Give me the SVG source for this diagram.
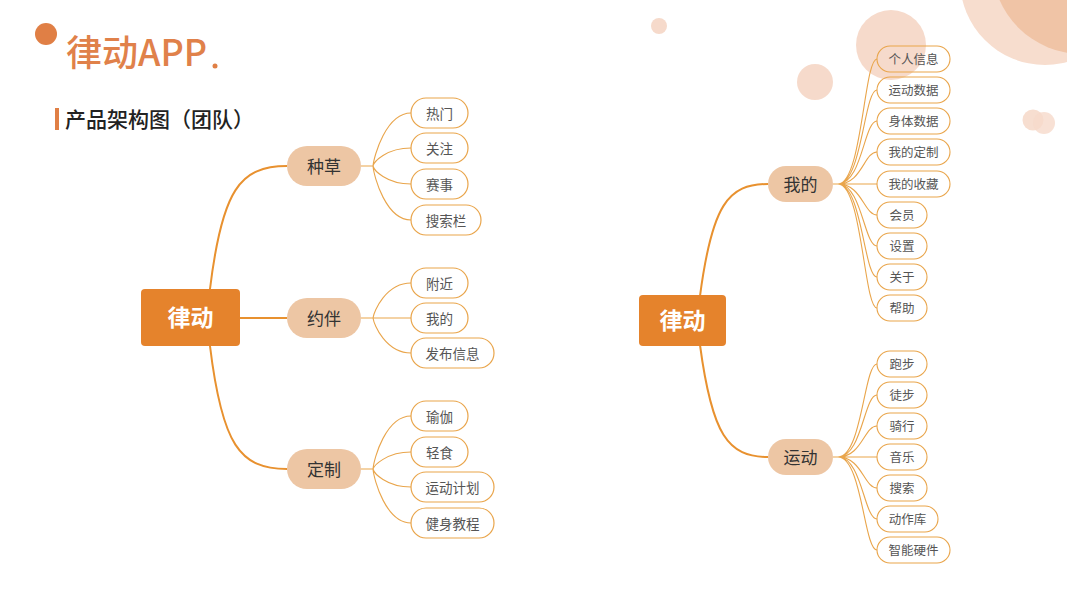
<svg xmlns="http://www.w3.org/2000/svg" width="1067" height="600" viewBox="0 0 1067 600">
<style>
text{font-family:"Noto Sans CJK SC","Noto Sans",sans-serif;}
.root rect{fill:#E5832C;}
.root text{fill:#fff;font-size:23px;font-weight:bold;text-anchor:middle;dominant-baseline:central;}
.pill rect{fill:#EDC6A4;}
.pill text{fill:#333;font-size:17px;text-anchor:middle;dominant-baseline:central;}
.leaf rect{fill:none;stroke:#E9A54B;stroke-width:1.2;}
.leaf text{fill:#555;font-size:13.5px;text-anchor:middle;dominant-baseline:central;}
.leafs text{fill:#555;font-size:12.5px;text-anchor:middle;dominant-baseline:central;}
.leafs rect{fill:none;stroke:#E9A54B;stroke-width:1.1;}
.main{fill:none;stroke:#E8912F;stroke-width:2;}
.sub{fill:none;stroke:#E9A54B;stroke-width:1.1;}
</style>
<rect width="1067" height="600" fill="#fff"/>
<g id="decor">
<circle cx="1045" cy="-20" r="85" fill="#F7DDCE"/>
<circle cx="1082" cy="-36" r="90" fill="#F0C4A6"/>
<circle cx="891" cy="45" r="35" fill="#F6DACB"/>
<circle cx="815" cy="82" r="18" fill="#F6DACB"/>
<circle cx="659" cy="26" r="8" fill="#F6DACB"/>
<circle cx="1033" cy="120" r="10.5" fill="#F6DACB" opacity="0.9"/>
<circle cx="1044" cy="123" r="11" fill="#F6DACB" opacity="0.8"/>
<circle cx="46" cy="34" r="11" fill="#E07F45"/>
<circle cx="215" cy="66" r="2.5" fill="#E07F45"/>
<rect x="55" y="108" width="4" height="22" fill="#E07F45"/>
</g>
<g id="title">
<text x="66" y="66" font-size="36" font-weight="500" fill="#E0814A">律动APP</text>
<text x="65" y="127" font-size="21" font-weight="500" fill="#222">产品架构图（团队）</text>
</g>
<g id="connectors">
<path class="main" d="M210,289 C222,190 240,166 287,166"/>
<path class="main" d="M240,318 L287,318"/>
<path class="main" d="M210,346 C222,445 240,469 287,469"/>
<path class="main" d="M700,296 C712,205 728,184 768,184"/>
<path class="main" d="M700,345 C712,435 728,457 768,457"/>
<path class="sub" d="M361,166 L373,166 M373,166 C374,156 386,113 411,113 M373,166 C374,162 386,148 411,148 M373,166 C374,170 386,184 411,184 M373,166 C374,177 386,220 411,220"/>
<path class="sub" d="M361,318 L411,318 M373,318 C374,311 386,283 411,283 M373,318 C374,325 386,353 411,353"/>
<path class="sub" d="M361,469 L373,469 M373,469 C374,458 386,416 411,416 M373,469 C374,466 386,452 411,452 M373,469 C374,473 386,487 411,487 M373,469 C374,480 386,523 411,523"/>
<path class="sub" d="M833,184 L838,184 M838,184 C862,184 864,59 877,59 M838,184 C862,184 864,90 877,90 M838,184 C862,184 864,121 877,121 M838,184 C862,184 864,152 877,152 M838,184 L877,184 M838,184 C862,184 864,215 877,215 M838,184 C862,184 864,246 877,246 M838,184 C862,184 864,277 877,277 M838,184 C862,184 864,308 877,308"/>
<path class="sub" d="M833,457 L838,457 M838,457 C862,457 864,364 877,364 M838,457 C862,457 864,395 877,395 M838,457 C862,457 864,426 877,426 M838,457 L877,457 M838,457 C862,457 864,488 877,488 M838,457 C862,457 864,519 877,519 M838,457 C862,457 864,550 877,550"/>
</g>
<g id="root-left" class="root"><rect x="141" y="289" width="99" height="57" rx="4"/><text x="190.5" y="316">律动</text></g>
<g id="zhongcao" class="pill"><rect x="287" y="146" width="74" height="40" rx="20"/><text x="324" y="165">种草</text></g>
<g id="yueban" class="pill"><rect x="287" y="298" width="74" height="40" rx="20"/><text x="324" y="317">约伴</text></g>
<g id="dingzhi" class="pill"><rect x="287" y="449" width="74" height="40" rx="20"/><text x="324" y="468">定制</text></g>
<g id="l-remen" class="leaf"><rect x="411" y="98" width="57" height="30" rx="15"/><text x="439.5" y="112.5">热门</text></g>
<g id="l-guanzhu" class="leaf"><rect x="411" y="133" width="57" height="30" rx="15"/><text x="439.5" y="147.5">关注</text></g>
<g id="l-saishi" class="leaf"><rect x="411" y="169" width="57" height="30" rx="15"/><text x="439.5" y="183.5">赛事</text></g>
<g id="l-sousuolan" class="leaf"><rect x="411" y="205" width="70" height="30" rx="15"/><text x="446" y="219.5">搜索栏</text></g>
<g id="l-fujin" class="leaf"><rect x="411" y="268" width="57" height="30" rx="15"/><text x="439.5" y="282.5">附近</text></g>
<g id="l-wode" class="leaf"><rect x="411" y="303" width="57" height="30" rx="15"/><text x="439.5" y="317.5">我的</text></g>
<g id="l-fabu" class="leaf"><rect x="411" y="338" width="83" height="30" rx="15"/><text x="452.5" y="352.5">发布信息</text></g>
<g id="l-yujia" class="leaf"><rect x="411" y="401" width="57" height="30" rx="15"/><text x="439.5" y="415.5">瑜伽</text></g>
<g id="l-qingshi" class="leaf"><rect x="411" y="437" width="57" height="30" rx="15"/><text x="439.5" y="451.5">轻食</text></g>
<g id="l-jihua" class="leaf"><rect x="411" y="472" width="83" height="30" rx="15"/><text x="452.5" y="486.5">运动计划</text></g>
<g id="l-jiaocheng" class="leaf"><rect x="411" y="508" width="83" height="30" rx="15"/><text x="452.5" y="522.5">健身教程</text></g>
<g id="root-right" class="root"><rect x="639" y="295" width="87" height="51" rx="4"/><text x="682.5" y="319">律动</text></g>
<g id="wode" class="pill"><rect x="768" y="166" width="65" height="36" rx="18"/><text x="800.5" y="183">我的</text></g>
<g id="yundong" class="pill"><rect x="768" y="439" width="65" height="36" rx="18"/><text x="800.5" y="456">运动</text></g>
<g id="r-geren" class="leafs"><rect x="877" y="46" width="73" height="26" rx="13"/><text x="913.5" y="58.5">个人信息</text></g>
<g id="r-yundongshuju" class="leafs"><rect x="877" y="77" width="73" height="26" rx="13"/><text x="913.5" y="89.5">运动数据</text></g>
<g id="r-shenti" class="leafs"><rect x="877" y="108" width="73" height="26" rx="13"/><text x="913.5" y="120.5">身体数据</text></g>
<g id="r-dingzhi" class="leafs"><rect x="877" y="139" width="73" height="26" rx="13"/><text x="913.5" y="151.5">我的定制</text></g>
<g id="r-shoucang" class="leafs"><rect x="877" y="171" width="73" height="26" rx="13"/><text x="913.5" y="183.5">我的收藏</text></g>
<g id="r-huiyuan" class="leafs"><rect x="877" y="202" width="50" height="26" rx="13"/><text x="902" y="214.5">会员</text></g>
<g id="r-shezhi" class="leafs"><rect x="877" y="233" width="50" height="26" rx="13"/><text x="902" y="245.5">设置</text></g>
<g id="r-guanyu" class="leafs"><rect x="877" y="264" width="50" height="26" rx="13"/><text x="902" y="276.5">关于</text></g>
<g id="r-bangzhu" class="leafs"><rect x="877" y="295" width="50" height="26" rx="13"/><text x="902" y="307.5">帮助</text></g>
<g id="r-paobu" class="leafs"><rect x="877" y="351" width="50" height="26" rx="13"/><text x="902" y="363.5">跑步</text></g>
<g id="r-tubu" class="leafs"><rect x="877" y="382" width="50" height="26" rx="13"/><text x="902" y="394.5">徒步</text></g>
<g id="r-qixing" class="leafs"><rect x="877" y="413" width="50" height="26" rx="13"/><text x="902" y="425.5">骑行</text></g>
<g id="r-yinyue" class="leafs"><rect x="877" y="444" width="50" height="26" rx="13"/><text x="902" y="456.5">音乐</text></g>
<g id="r-sousuo" class="leafs"><rect x="877" y="475" width="50" height="26" rx="13"/><text x="902" y="487.5">搜索</text></g>
<g id="r-dongzuoku" class="leafs"><rect x="877" y="506" width="61" height="26" rx="13"/><text x="907.5" y="518.5">动作库</text></g>
<g id="r-yingjian" class="leafs"><rect x="877" y="537" width="73" height="26" rx="13"/><text x="913.5" y="549.5">智能硬件</text></g>
</svg>
